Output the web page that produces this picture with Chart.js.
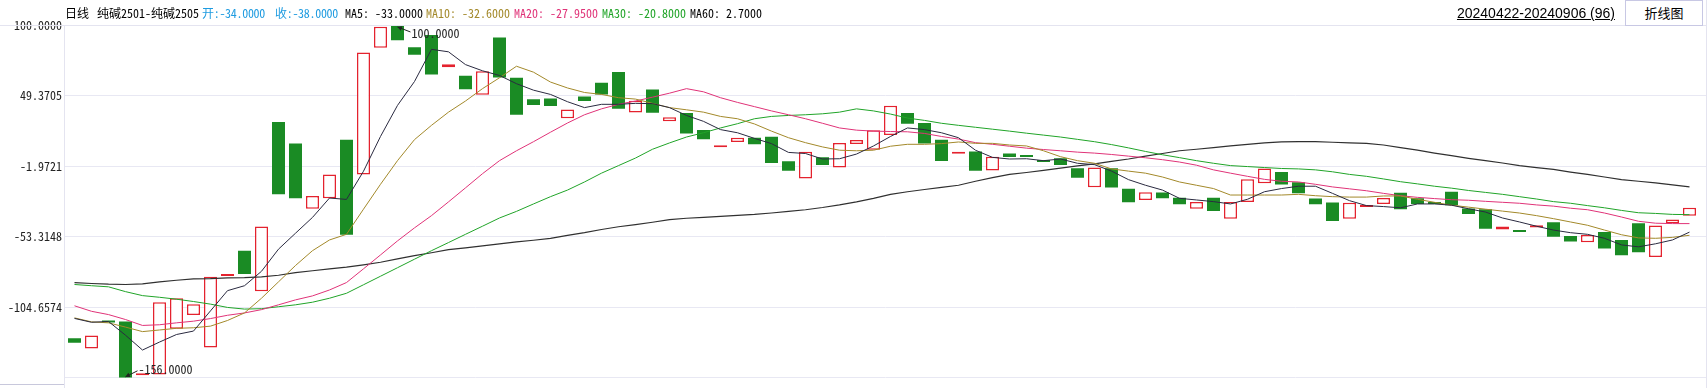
<!DOCTYPE html>
<html>
<head>
<meta charset="utf-8">
<script src="https://cdn.jsdelivr.net/npm/chart.js@4.4.1/dist/chart.umd.min.js"></script>
<style>
  body { margin: 0; background: #fff; }
  #wrap { position: relative; width: 1707px; height: 388px; overflow: hidden;
          font-family: "Noto Sans Mono CJK SC", "Noto Sans CJK SC", "DejaVu Sans Mono", monospace; }
  #myChart { position: absolute; left: 0; top: 0; }
  .hd { position: absolute; top: 5px; font-size: 12px; line-height: 16px; white-space: pre; color: #000; }
  .line { position: absolute; background: #e4e4f0; }
  #range { position: absolute; top: 5px; right: 92px; font: 14px "Liberation Sans", Arial, sans-serif;
           text-decoration: underline; color: #000; }
  #btn { position: absolute; left: 1625px; top: 0; width: 76px; height: 24px; border: 1px solid #c8c8e4;
         font: 13px "Noto Sans CJK SC", sans-serif; line-height: 24px; text-align: center; color: #000; background: #fff; }
</style>
</head>
<body>
<div id="wrap">
  <canvas id="myChart" width="1707" height="388"></canvas>
  <div class="line" style="left:0;top:25px;width:1707px;height:1px;"></div>
  <div class="line" style="left:64px;top:25px;width:1px;height:363px;"></div>
  <div class="line" style="left:1706px;top:0;width:1px;height:388px;"></div>
  <div class="line" style="left:0;top:384px;width:64px;height:1px;background:#c8c8dc;"></div>

  <span class="hd" style="left:65px">日线</span>
  <span class="hd" style="left:97px">纯碱2501-纯碱2505</span>
  <span class="hd" style="left:202px;color:#1e9be0;letter-spacing:-0.3px">开:-34.0000</span>
  <span class="hd" style="left:275px;color:#1e9be0;letter-spacing:-0.3px">收:-38.0000</span>
  <span class="hd" style="left:345px">MA5: -33.0000</span>
  <span class="hd" style="left:426px;color:#a3892a">MA10: -32.6000</span>
  <span class="hd" style="left:514px;color:#e03378">MA20: -27.9500</span>
  <span class="hd" style="left:602px;color:#20a428">MA30: -20.8000</span>
  <span class="hd" style="left:690px">MA60: 2.7000</span>
  <span id="range">20240422-20240906 (96)</span>
  <div id="btn">折线图</div>
</div>

<script>
// daily spread candles (open / close), 96 trading days
const opens = [
  -127.2, -134.6, -114.3, -115.0, -153.4, -153.6, -120.3, -110.3, -133.9, -81.9,
  -63.5, -93.1, 30.1, 14.4, -33.0, -25.4, 17.3, -8.0, 84.2, 100.0,
  84.5, 93.5, 69.9, 63.7, 49.9, 91.6, 62.3, 46.6, 47.3, 32.8,
  48.7, 58.7, 66.6, 37.0, 53.7, 30.6, 36.6, 24.4, 11.8, 15.6,
  18.7, 19.4, 1.5, -10.9, 4.4, -3.0, 14.2, 9.9, 20.6, 36.6,
  29.4, 17.3, 7.0, 8.7, -5.1, 7.2, 5.1, 2.0, 3.7, -3.5,
  -17.3, -3.5, -18.5, -26.6, -21.1, -24.9, -33.0, -24.9, -40.2, -28.0,
  -14.4, -6.3, -13.7, -25.6, -28.5, -40.2, -31.6, -29.5, -21.4, -25.4,
  -28.0, -20.6, -32.8, -33.3, -48.1, -48.5, -46.6, -42.8, -52.8, -57.3,
  -50.0, -55.7, -43.5, -68.1, -43.5, -38.0
];
const closes = [
  -130.5, -125.3, -115.3, -156.0, -152.7, -101.0, -98.1, -102.4, -82.4, -80.5,
  -80.5, -45.9, -22.5, -25.4, -23.7, -8.0, -51.9, 80.7, 99.5, 89.7,
  79.0, 64.7, 72.1, 54.0, 67.1, 62.5, 35.4, 42.5, 41.8, 39.2,
  45.4, 50.2, 39.7, 45.6, 36.8, 33.5, 21.8, 17.5, 12.3, 18.7,
  13.9, 0.3, -5.4, 8.4, -1.1, 14.9, 17.0, 24.2, 42.0, 28.9,
  14.4, 1.8, 8.4, -5.4, 4.9, 4.6, 4.6, 1.0, -1.1, -10.4,
  -3.0, -17.5, -28.3, -20.9, -25.4, -29.7, -28.0, -34.7, -28.0, -11.6,
  -3.7, -15.4, -21.8, -29.7, -41.9, -28.7, -30.2, -25.2, -33.3, -29.5,
  -29.2, -30.4, -36.8, -47.6, -45.9, -49.0, -45.0, -53.3, -56.9, -52.1,
  -61.9, -66.9, -64.7, -45.2, -40.9, -32.3
];

const ma5 = [
  -112.8, -115.6, -115.0, -125.0, -135.8, -130.0, -124.5, -122.0, -107.3, -92.6,
  -89.0, -78.5, -62.4, -50.8, -39.3, -25.2, -26.2, -5.7, 19.6, 42.2,
  59.6, 83.0, 81.2, 71.9, 67.4, 64.0, 58.0, 53.3, 50.2, 44.9,
  40.6, 43.0, 43.0, 43.7, 43.5, 40.6, 34.9, 30.6, 24.6, 22.3,
  18.2, 14.4, 8.0, 7.2, 3.2, 3.4, 6.8, 12.7, 19.6, 25.8,
  24.6, 22.3, 18.7, 9.6, 4.4, 3.2, 3.4, 2.0, 3.2, 0.1,
  -0.9, -5.6, -11.8, -15.9, -19.4, -25.4, -26.6, -27.8, -29.5, -26.1,
  -20.6, -18.3, -16.6, -16.6, -21.8, -27.1, -30.7, -31.4, -32.3, -29.5,
  -29.5, -30.4, -33.0, -35.4, -39.7, -42.6, -45.7, -48.5, -50.4, -51.6,
  -54.5, -59.3, -60.7, -58.5, -55.7, -50.0
];
const ma10 = [
  -112.4, -115.3, -116.0, -119.1, -122.4, -121.2, -120.0, -119.6, -118.4, -114.3,
  -108.8, -98.1, -86.2, -74.3, -63.5, -55.7, -51.6, -33.3, -15.2, 2.0,
  17.3, 27.7, 37.3, 45.4, 54.4, 62.3, 70.7, 66.4, 59.2, 54.9,
  51.6, 50.2, 47.8, 46.8, 43.7, 40.6, 39.0, 37.3, 34.2, 32.5,
  28.7, 23.5, 18.7, 15.1, 12.0, 9.6, 9.2, 9.6, 12.5, 13.9,
  13.9, 14.4, 15.6, 14.6, 14.6, 13.4, 12.7, 9.2, 4.9, 2.0,
  0.1, -4.0, -5.6, -7.1, -9.9, -13.5, -15.9, -18.3, -23.0, -23.0,
  -23.0, -23.0, -22.5, -23.5, -24.2, -24.5, -24.5, -23.7, -23.7, -26.1,
  -28.3, -30.4, -31.8, -33.3, -34.7, -36.1, -38.0, -40.2, -42.6, -45.0,
  -48.5, -51.9, -54.2, -54.5, -53.8, -52.3
];
const ma20 = [
  -103.6, -107.6, -110.0, -113.6, -117.9, -117.4, -116.0, -114.8, -112.9, -110.5,
  -108.8, -106.4, -102.9, -99.3, -96.4, -92.1, -86.7, -76.7, -66.6, -56.4,
  -46.9, -38.0, -28.0, -17.8, -7.5, 2.0, 9.2, 15.8, 22.7, 29.4,
  35.4, 39.7, 43.0, 45.4, 48.2, 51.1, 54.4, 52.1, 47.8, 44.4,
  41.3, 38.2, 35.4, 32.5, 29.2, 25.8, 24.2, 23.5, 23.2, 23.0,
  21.8, 19.6, 17.7, 15.1, 13.9, 12.5, 11.1, 10.1, 9.2, 8.2,
  7.5, 6.5, 5.3, 4.1, 2.7, 1.0, -1.3, -4.7, -7.1, -9.4,
  -11.6, -13.0, -13.5, -15.2, -17.1, -18.5, -19.9, -21.8, -23.5, -24.7,
  -25.6, -26.4, -26.8, -27.6, -28.3, -29.0, -30.2, -31.1, -32.6, -33.7,
  -36.1, -39.0, -42.1, -43.5, -43.8, -43.8
];
const ma30 = [
  -88.1, -89.0, -89.8, -93.3, -96.2, -97.4, -98.8, -100.5, -102.4, -104.8,
  -106.0, -105.7, -104.3, -102.9, -101.0, -98.1, -94.5, -88.3, -82.1, -75.9,
  -69.7, -63.5, -57.6, -51.6, -45.7, -39.7, -34.9, -29.5, -24.2, -19.4,
  -13.5, -7.1, -1.6, 3.9, 10.3, 14.9, 19.2, 22.3, 25.8, 28.9,
  32.5, 34.2, 34.9, 35.4, 36.1, 37.3, 39.7, 38.2, 35.9, 33.0,
  31.3, 29.2, 27.7, 26.3, 24.9, 23.5, 22.0, 20.6, 19.2, 17.5,
  15.8, 13.7, 11.3, 8.7, 6.3, 4.2, 2.0, 0.1, -1.6, -2.3,
  -3.0, -3.7, -4.0, -4.7, -6.1, -8.0, -9.4, -11.3, -13.3, -14.9,
  -16.6, -18.0, -19.7, -21.1, -22.5, -24.2, -25.9, -27.8, -29.0, -30.7,
  -32.3, -34.2, -35.9, -36.4, -37.1, -37.3
];
const ma60 = [
  -86.7, -87.4, -87.9, -88.1, -87.6, -86.2, -85.0, -84.0, -83.8, -83.3,
  -83.1, -82.6, -81.4, -79.5, -78.1, -76.7, -75.5, -73.8, -71.9, -69.5,
  -67.1, -65.0, -62.8, -61.4, -60.0, -58.5, -57.1, -55.9, -54.5, -52.3,
  -50.4, -48.1, -46.1, -44.5, -42.8, -40.9, -39.9, -39.2, -38.5, -37.8,
  -37.1, -36.1, -34.9, -33.7, -32.1, -30.2, -28.0, -25.4, -22.5, -20.6,
  -19.0, -17.5, -15.9, -13.0, -10.4, -8.0, -6.6, -5.1, -3.5, -1.8,
  -0.4, 1.5, 3.2, 5.3, 7.2, 9.2, 10.3, 11.5, 12.7, 13.9,
  14.9, 15.6, 15.8, 15.8, 15.4, 14.9, 14.6, 13.4, 11.5, 9.6,
  7.5, 5.6, 3.7, 2.0, 0.3, -1.6, -3.0, -4.4, -6.3, -8.0,
  -9.9, -11.8, -13.0, -14.2, -15.6, -17.1
];

// y axis: grid values and their printed labels
const tickValues = [-156, -104.6574, -53.3148, -1.9721, 49.3705, 100.7131];
const tickLabels = ['', '-104.6574', '-53.3148', '-1.9721', '49.3705', '100.0000'];

const upColor = '#e4222e';
const downColor = '#1a8b24';
const monoFont = '"Noto Sans Mono CJK SC", "DejaVu Sans Mono", monospace';

var ctx = document.getElementById('myChart');

const candles = opens.map((o, i) => ({ x: i, y: [o, closes[i]] }));
const toPoints = arr => arr.map((v, i) => ({ x: i, y: v }));
const isUp = c => c.raw && c.raw.y[1] >= c.raw.y[0];

function maLine(label, arr, color, width) {
  return {
    type: 'line', label: label, data: toPoints(arr),
    borderColor: color, borderWidth: width, pointRadius: 0,
    tension: 0, order: 1
  };
}

// max / min markers with small arrows
const markers = {
  id: 'markers',
  afterDatasetsDraw(chart) {
    const c = chart.ctx, xs = chart.scales.x, ys = chart.scales.y;
    const highs = opens.map((o, i) => Math.max(o, closes[i]));
    const lows = opens.map((o, i) => Math.min(o, closes[i]));
    const hi = Math.max(...highs), lo = Math.min(...lows);
    const hiI = highs.indexOf(hi), loI = lows.indexOf(lo);
    c.save();
    c.font = '12px ' + monoFont;
    c.fillStyle = '#222';
    c.strokeStyle = '#222';
    c.lineWidth = 1;
    c.textBaseline = 'middle';

    function arrow(tx, ty, fx, fy) {
      c.beginPath(); c.moveTo(fx, fy); c.lineTo(tx, ty); c.stroke();
      const a = Math.atan2(ty - fy, tx - fx);
      c.beginPath();
      c.moveTo(tx, ty);
      c.lineTo(tx - 5 * Math.cos(a - 0.5), ty - 5 * Math.sin(a - 0.5));
      c.lineTo(tx - 5 * Math.cos(a + 0.5), ty - 5 * Math.sin(a + 0.5));
      c.closePath(); c.fill();
    }
    let px = xs.getPixelForValue(hiI), py = ys.getPixelForValue(hi);
    arrow(px, py + 1, px + 13, py + 6);
    c.fillText(hi.toFixed(4), px + 14, py + 7);

    px = xs.getPixelForValue(loI); py = ys.getPixelForValue(lo);
    arrow(px, py - 1, px + 12, py - 7);
    c.fillText(lo.toFixed(4), px + 13, py - 8);
    c.restore();
  }
};

var SpreadChart = new Chart(ctx, {
  type: 'bar',
  data: {
    datasets: [
      maLine('MA5', ma5, '#2a2a40', 1),
      maLine('MA10', ma10, '#a3892a', 1),
      maLine('MA20', ma20, '#e03378', 1),
      maLine('MA30', ma30, '#20a428', 1),
      maLine('MA60', ma60, '#303030', 1.2),
      {
        type: 'bar', label: 'K', data: candles, order: 10,
        barThickness: 13, minBarLength: 2,
        borderWidth: c => isUp(c) ? 1.5 : 0,
        borderSkipped: false, inflateAmount: 0,
        backgroundColor: c => isUp(c) ? '#ffffff' : downColor,
        borderColor: c => isUp(c) ? upColor : downColor
      }
    ]
  },
  options: {
    responsive: false,
    animation: false,
    devicePixelRatio: 1,
    layout: { padding: { top: 25, bottom: 4, left: 0, right: 1 } },
    plugins: { legend: { display: false }, tooltip: { enabled: false } },
    scales: {
      x: { type: 'linear', display: false, min: -0.5588, max: 95.971, offset: false },
      y: {
        min: -156, max: 100.7131,
        afterBuildTicks: s => { s.ticks = tickValues.map(v => ({ value: v })); },
        afterFit: s => { s.width = 65; },
        border: { display: false },
        grid: { color: '#e8e8f3', drawTicks: false },
        ticks: {
          padding: 3, color: '#222',
          font: { family: monoFont, size: 12 },
          callback: (v, i) => tickLabels[i]
        }
      }
    }
  },
  plugins: [markers]
});
</script>
</body>
</html>
